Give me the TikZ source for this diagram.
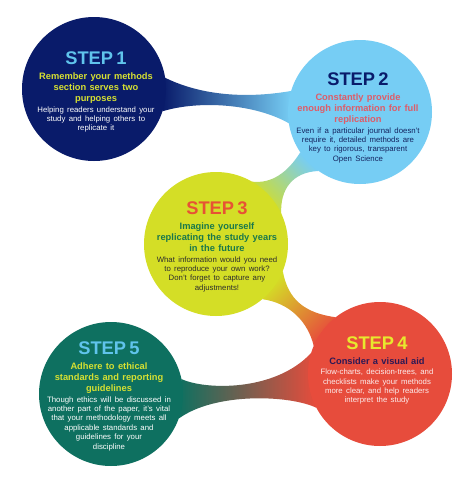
\documentclass[tikz,border=0pt]{standalone}
\usepackage{fontspec}
\setmainfont{Liberation Sans}
\usetikzlibrary{calc,positioning}
\definecolor{navy}{RGB}{9,27,106}
\definecolor{sky}{RGB}{118,205,244}
\definecolor{lime}{RGB}{212,222,38}
\definecolor{coral}{RGB}{231,76,60}
\definecolor{teal}{RGB}{14,112,96}
\definecolor{skyhead}{RGB}{96,196,236}
\definecolor{limehead}{RGB}{214,224,50}
\definecolor{rosesub}{RGB}{222,92,104}
\definecolor{navybody}{RGB}{20,35,95}
\definecolor{orangehead}{RGB}{231,82,52}
\definecolor{greensub}{RGB}{25,120,75}
\definecolor{greybody}{RGB}{45,45,45}
\definecolor{yellowhead}{RGB}{232,232,46}
\definecolor{plumsub}{RGB}{45,25,85}
\definecolor{pinkbody}{RGB}{252,236,236}
\newcommand{\stephead}[2]{{\centering\color{#1}\fontsize{18.3}{20}\selectfont\bfseries #2\par}\vspace{3.5pt}}
\newcommand{\stepsub}[2]{{\centering\color{#1}\fontsize{9.3}{11.2}\selectfont\bfseries #2\par}\vspace{1.2pt}}
\newcommand{\stepbody}[2]{{\centering\color{#1}\fontsize{7.8}{9.4}\selectfont #2\par}}

\begin{document}
\begin{tikzpicture}[x=1pt,y=-1pt,
    bubble/.style={circle,minimum size=144pt,inner sep=0pt},
    steptext/.style={anchor=north,text width=140pt,align=center,inner sep=0pt}]
  \pgfmathsetmacro{\R}{72}
  \fill[white] (0,0) rectangle (474,480);
  \useasboundingbox (0,0) rectangle (474,480);

  \coordinate (c1) at (94,89);
  \coordinate (c2) at (360,112);
  \coordinate (c3) at (216,244);
  \coordinate (c4) at (380,374);
  \coordinate (c5) at (111,394);

  % necks between the bubbles
  \shade[left color=navy,right color=sky]
    ($(c1)+(-9:\R)$) .. controls (200,95) and (245,99) .. ($(c2)+(197:\R)$)
    -- ($(c2)+(171:\R)$) .. controls (255,104) and (200,100) .. ($(c1)+(18:\R)$) -- cycle;
  \shade[top color=sky,bottom color=lime,shading angle=-45]
    ($(c3)+(-60:\R)$) .. controls (272,184) and (288,172) .. ($(c2)+(146:\R)$)
    -- ($(c2)+(125:\R)$) .. controls (292,172) and (280,190) .. ($(c3)+(-25:\R)$) -- cycle;
  \shade[top color=lime,bottom color=coral,shading angle=45]
    ($(c3)+(22:\R)$) .. controls (288,300) and (305,313) .. ($(c4)+(232:\R)$)
    -- ($(c4)+(203:\R)$) .. controls (308,322) and (290,303) .. ($(c3)+(50:\R)$) -- cycle;
  \shade[left color=teal,right color=coral]
    ($(c5)+(-12:\R)$) .. controls (205,390) and (275,392) .. ($(c4)+(197:\R)$)
    -- ($(c4)+(152:\R)$) .. controls (290,395) and (215,392) .. ($(c5)+(20:\R)$) -- cycle;

  \node[bubble,fill=navy] (s1) at (c1) {};
  \node[bubble,fill=sky] (s2) at (c2) {};
  \node[bubble,fill=lime] (s3) at (c3) {};
  \node[bubble,fill=coral] (s4) at (c4) {};
  \node[bubble,fill=teal] (s5) at (c5) {};

  \node[steptext] (t1) at ($(s1)+(2,-37.5)$) {%
    \stephead{skyhead}{STEP 1}%
    \stepsub{limehead}{Remember your methods\\section serves two\\purposes}%
    \stepbody{white}{Helping readers understand your\\study and helping others to\\replicate it}};
  \node[steptext] (t2) at ($(s2)+(-2,-39.5)$) {%
    \stephead{navy}{STEP 2}%
    \stepsub{rosesub}{Constantly provide\\enough information for full\\replication}%
    \stepbody{navybody}{Even if a particular journal doesn't\\require it, detailed methods are\\key to rigorous, transparent\\Open Science}};
  \node[steptext] (t3) at ($(s3)+(1,-42.5)$) {%
    \stephead{orangehead}{STEP 3}%
    \stepsub{greensub}{Imagine yourself\\replicating the study years\\in the future}%
    \stepbody{greybody}{What information would you need\\to reproduce your own work?\\Don't forget to capture any\\adjustments!}};
  \node[steptext] (t4) at ($(s4)+(-3,-37.5)$) {%
    \stephead{yellowhead}{STEP 4}%
    \stepsub{plumsub}{Consider a visual aid}%
    \stepbody{pinkbody}{Flow-charts, decision-trees, and\\checklists make your methods\\more clear, and help readers\\interpret the study}};
  \node[steptext] (t5) at ($(s5)+(-2,-52.5)$) {%
    \stephead{skyhead}{STEP 5}%
    \stepsub{limehead}{Adhere to ethical\\standards and reporting\\guidelines}%
    \stepbody{white}{Though ethics will be discussed in\\another part of the paper, it's vital\\that your methodology meets all\\applicable standards and\\guidelines for your\\discipline}};
\end{tikzpicture}
\end{document}
